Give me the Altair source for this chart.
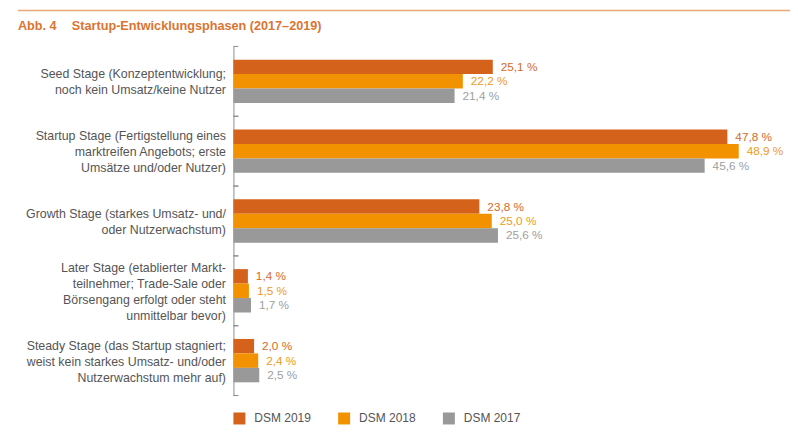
import altair as alt
import pandas as pd

# ---------------- data ----------------
stages = [
    "Seed Stage (Konzeptentwicklung;\nnoch kein Umsatz/keine Nutzer",
    "Startup Stage (Fertigstellung eines\nmarktreifen Angebots; erste\nUmsätze und/oder Nutzer)",
    "Growth Stage (starkes Umsatz- und/\noder Nutzerwachstum)",
    "Later Stage (etablierter Markt-\nteilnehmer; Trade-Sale oder\nBörsengang erfolgt oder steht\nunmittelbar bevor)",
    "Steady Stage (das Startup stagniert;\nweist kein starkes Umsatz- und/oder\nNutzerwachstum mehr auf)",
]
series = ["DSM 2019", "DSM 2018", "DSM 2017"]
dsm2019 = [25.1, 47.8, 23.8, 1.4, 2.0]
dsm2018 = [22.2, 48.9, 25.0, 1.5, 2.4]
dsm2017 = [21.4, 45.6, 25.6, 1.7, 2.5]

title_no = "Abb. 4"
title_text = "Startup-Entwicklungsphasen (2017–2019)"

# ---------------- styles ----------------
FONT = "Liberation Sans"
bar_colors = ["#d5621a", "#f39200", "#999999"]
label_colors = {"DSM 2019": "#d66a28", "DSM 2018": "#f09a20", "DSM 2017": "#a0a0a0"}
TEXT_GRAY = "#555555"
AXIS_GRAY = "#8c8c8c"
TITLE_COLOR = "#db7430"
LINE_COLOR = "#e8a878"
LINE_H = 16

rows = []
for s, vals in zip(series, [dsm2019, dsm2018, dsm2017]):
    for st, v in zip(stages, vals):
        rows.append({
            "stage": st,
            "series": s,
            "value": v,
            "label": f"{v:.1f}".replace(".", ",") + " %",
            "lcolor": label_colors[s],
        })
df = pd.DataFrame(rows)
stage_df = pd.DataFrame({"stage": stages})

y_axis = alt.Axis(
    title=None, labelExpr="split(datum.label, '\\n')",
    labelFont=FONT, labelFontSize=12.4, labelColor=TEXT_GRAY,
    labelLineHeight=LINE_H, labelPadding=8, ticks=False, tickSize=0,
    labelOffset={"expr": f"1 - (length(split(datum.label, '\\n')) - 1) * {LINE_H / 2}"},
    domainColor=AXIS_GRAY, domainWidth=1, labelLimit=300,
    minExtent=216, maxExtent=216, labelAlign="right", labelBaseline="middle",
)
y_scale = alt.Scale(paddingInner=0, paddingOuter=0)


def y_enc(**kw):
    return alt.Y("stage:N", sort=stages, scale=y_scale, axis=y_axis, **kw)


yoff = alt.YOffset("series:N", sort=series,
                   scale=alt.Scale(paddingInner=0, paddingOuter=0.914))
x_enc = alt.X("value:Q", scale=alt.Scale(domain=[0, 50]), axis=None)

bars = alt.Chart(df).mark_bar().encode(
    x=x_enc, y=y_enc(), yOffset=yoff,
    color=alt.Color(
        "series:N", sort=series,
        scale=alt.Scale(domain=series, range=bar_colors),
        legend=alt.Legend(
            title=None, orient="none", legendX=0, legendY=367,
            direction="horizontal", symbolType="square", symbolSize=144,
            symbolStrokeWidth=0, labelFont=FONT, labelFontSize=12,
            labelColor=TEXT_GRAY, labelOffset=9, columnPadding=27, padding=0,
        ),
    ),
)

labels = alt.Chart(df).mark_text(
    align="left", baseline="middle", dx=8, font=FONT, fontSize=11.8
).encode(
    x=x_enc, y=y_enc(), yOffset=yoff,
    text="label:N",
    color=alt.Color("lcolor:N", scale=None),
)

ticks_top = alt.Chart(stage_df).mark_rule(color=AXIS_GRAY, strokeWidth=1).encode(
    y=y_enc(bandPosition=0),
    x=alt.value(0), x2=alt.value(5),
)
ticks_bot = alt.Chart(stage_df).mark_rule(color=AXIS_GRAY, strokeWidth=1).encode(
    y=y_enc(bandPosition=1),
    x=alt.value(0), x2=alt.value(5),
)

top_line = alt.Chart(alt.Data(values=[{}])).mark_rule(
    color=LINE_COLOR, strokeWidth=1.5
).encode(x=alt.value(-216), x2=alt.value(558), y=alt.value(-36))

title1 = alt.Chart(alt.Data(values=[{}])).mark_text(
    text=title_no, align="left", baseline="alphabetic", font=FONT,
    fontSize=12.7, fontWeight="bold", color=TITLE_COLOR,
).encode(x=alt.value(-216), y=alt.value(-16))
title2 = alt.Chart(alt.Data(values=[{}])).mark_text(
    text=title_text, align="left", baseline="alphabetic", font=FONT,
    fontSize=12.7, fontWeight="bold", color=TITLE_COLOR,
).encode(x=alt.value(-162), y=alt.value(-16))

chart = alt.layer(
    bars, labels, ticks_top, ticks_bot, top_line, title1, title2
).resolve_scale(color="independent").properties(
    width=518, height=350,
    autosize=alt.AutoSizeParams(type="none"),
    padding={"left": 226, "top": 38, "right": 40, "bottom": 29},
).configure_view(stroke=None)

chart.save("out.html", embed_options={"renderer": "svg", "actions": False})
